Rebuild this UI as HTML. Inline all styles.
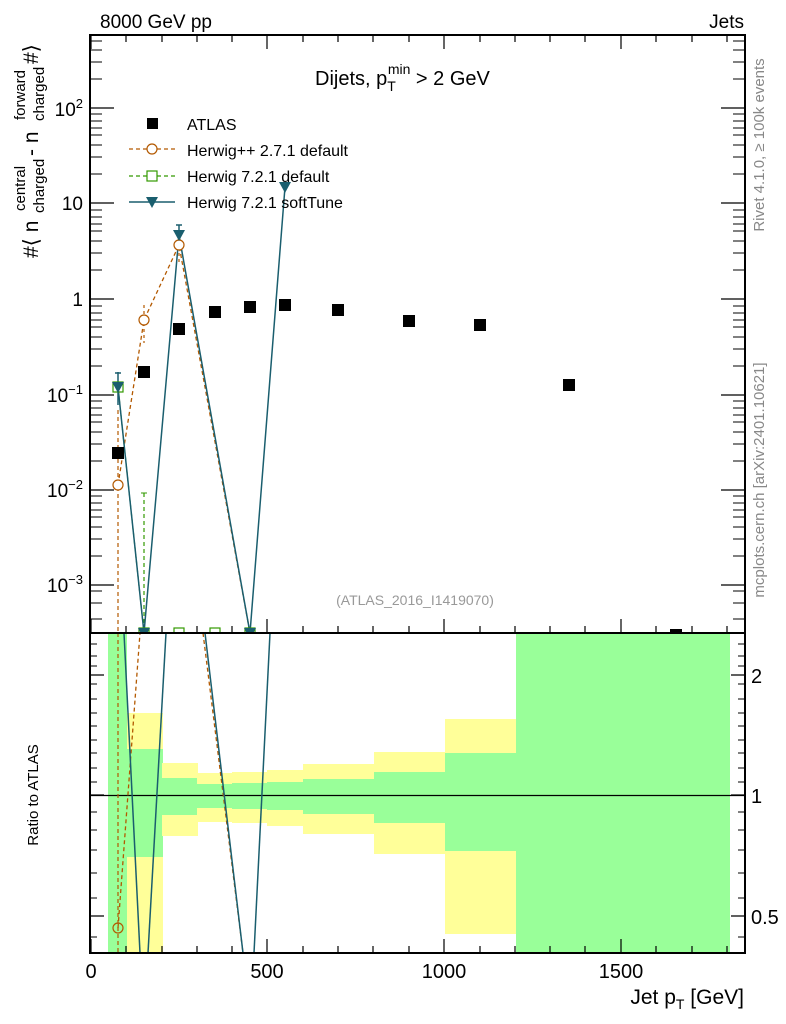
<!DOCTYPE html>
<html><head><meta charset="utf-8"><style>
html,body{margin:0;padding:0;background:#fff}
svg{display:block;font-family:"Liberation Sans",sans-serif}
</style></head><body>
<svg width="786" height="1024" viewBox="0 0 786 1024" xmlns="http://www.w3.org/2000/svg">
<defs>
<clipPath id="cm"><rect x="90" y="35" width="655" height="598"/></clipPath>
<clipPath id="cr"><rect x="90" y="633" width="655" height="320"/></clipPath>
</defs>
<g clip-path="url(#cr)">
<rect x="108" y="633" width="19" height="320" fill="#99ff99"/>
<rect x="127" y="713" width="36" height="240" fill="#ffff99"/>
<rect x="127" y="749" width="36" height="108" fill="#99ff99"/>
<rect x="162" y="763" width="36" height="73" fill="#ffff99"/>
<rect x="162" y="778" width="36" height="37" fill="#99ff99"/>
<rect x="197" y="773" width="36" height="49" fill="#ffff99"/>
<rect x="197" y="784" width="36" height="24" fill="#99ff99"/>
<rect x="232" y="772" width="36" height="51" fill="#ffff99"/>
<rect x="232" y="783" width="36" height="26" fill="#99ff99"/>
<rect x="267" y="770" width="36" height="56" fill="#ffff99"/>
<rect x="267" y="782" width="36" height="28" fill="#99ff99"/>
<rect x="303" y="764" width="72" height="70" fill="#ffff99"/>
<rect x="303" y="779" width="72" height="35" fill="#99ff99"/>
<rect x="374" y="752" width="72" height="102" fill="#ffff99"/>
<rect x="374" y="772" width="72" height="51" fill="#99ff99"/>
<rect x="445" y="719" width="72" height="215" fill="#ffff99"/>
<rect x="445" y="753" width="72" height="98" fill="#99ff99"/>
<rect x="516" y="633" width="214" height="320" fill="#99ff99"/>
<line x1="90" y1="795.5" x2="745" y2="795.5" stroke="#000" stroke-width="1.2"/>
<line x1="118" y1="633" x2="118" y2="953" stroke="#b35900" stroke-width="1.2" stroke-dasharray="4,3"/>
<polyline points="118,928 140,633" fill="none" stroke="#b35900" stroke-width="1.3" stroke-dasharray="4,3"/>
<polyline points="203,633 243,953" fill="none" stroke="#b35900" stroke-width="1.3" stroke-dasharray="4,3"/>
<circle cx="118" cy="928" r="5" fill="none" stroke="#b35900" stroke-width="1.2"/>
<polyline points="124,633 140,953" fill="none" stroke="#1a5e6e" stroke-width="1.5"/>
<polyline points="148,953 166,633" fill="none" stroke="#1a5e6e" stroke-width="1.5"/>
<polyline points="205,633 243,953" fill="none" stroke="#1a5e6e" stroke-width="1.5"/>
<polyline points="254,953 270,633" fill="none" stroke="#1a5e6e" stroke-width="1.5"/>
</g>
<g clip-path="url(#cm)">
<polyline points="118,485 144,320 179,245 250,633" fill="none" stroke="#b35900" stroke-width="1.3" stroke-dasharray="4,3"/>
<line x1="118" y1="410" x2="118" y2="633" stroke="#b35900" stroke-width="1.2" stroke-dasharray="4,3"/>
<line x1="144" y1="305" x2="144" y2="343" stroke="#b35900" stroke-width="1.2" stroke-dasharray="3,3"/>
<line x1="179" y1="235" x2="179" y2="262" stroke="#b35900" stroke-width="1.2" stroke-dasharray="3,3"/>
<polyline points="118,387 144,633" fill="none" stroke="#339900" stroke-width="1.2" stroke-dasharray="4,3"/>
<line x1="144" y1="493" x2="144" y2="633" stroke="#339900" stroke-width="1.2" stroke-dasharray="4,3"/>
<line x1="141" y1="493" x2="147" y2="493" stroke="#339900"/>
<polyline points="118,387 144,633 179,235 250,633 285,187" fill="none" stroke="#1a5e6e" stroke-width="1.5"/>
<line x1="118" y1="372" x2="118" y2="405" stroke="#1a5e6e" stroke-width="1.5"/>
<line x1="115" y1="373" x2="121" y2="373" stroke="#1a5e6e" stroke-width="1.5"/>
<line x1="179" y1="225" x2="179" y2="250" stroke="#1a5e6e" stroke-width="1.5"/>
<line x1="176" y1="225" x2="182" y2="225" stroke="#1a5e6e" stroke-width="1.5"/>
<circle cx="118" cy="485" r="5" fill="#fff" stroke="#b35900" stroke-width="1.2"/>
<circle cx="144" cy="320" r="5" fill="#fff" stroke="#b35900" stroke-width="1.2"/>
<circle cx="179" cy="245" r="5" fill="#fff" stroke="#b35900" stroke-width="1.2"/>
<rect x="113" y="382" width="10" height="10" fill="none" stroke="#339900" stroke-width="1.2"/>
<rect x="139" y="628" width="10" height="10" fill="none" stroke="#339900" stroke-width="1.2"/>
<rect x="174" y="628" width="10" height="10" fill="none" stroke="#339900" stroke-width="1.2"/>
<rect x="210" y="628" width="10" height="10" fill="none" stroke="#339900" stroke-width="1.2"/>
<rect x="245" y="628" width="10" height="10" fill="none" stroke="#339900" stroke-width="1.2"/>
<g fill="#1a5e6e">
<polygon points="112,382 124,382 118,393"/>
<polygon points="138,628 150,628 144,639"/>
<polygon points="173,230 185,230 179,241"/>
<polygon points="244,628 256,628 250,639"/>
<polygon points="279,182 291,182 285,193"/>
</g>
<g fill="#000">
<rect x="112" y="447" width="12" height="12"/>
<rect x="138" y="366" width="12" height="12"/>
<rect x="173" y="323" width="12" height="12"/>
<rect x="209" y="306" width="12" height="12"/>
<rect x="244" y="301" width="12" height="12"/>
<rect x="279" y="299" width="12" height="12"/>
<rect x="332" y="304" width="12" height="12"/>
<rect x="403" y="315" width="12" height="12"/>
<rect x="474" y="319" width="12" height="12"/>
<rect x="563" y="379" width="12" height="12"/>
<rect x="670" y="629" width="12" height="12"/>
</g>
</g>
<rect x="90" y="35" width="655" height="598" fill="none" stroke="#000" stroke-width="2"/>
<rect x="90" y="633" width="655" height="320" fill="none" stroke="#000" stroke-width="2"/>
<g stroke="#000" stroke-width="1.2">
<path d="M91,633v-14M267,633v-14M444,633v-14M621,633v-14M91,953v-14M267,953v-14M444,953v-14M621,953v-14M91,35v14M267,35v14M444,35v14M621,35v14"/>
<path d="M126,633v-7M162,633v-7M197,633v-7M232,633v-7M303,633v-7M338,633v-7M373,633v-7M409,633v-7M480,633v-7M515,633v-7M550,633v-7M585,633v-7M656,633v-7M692,633v-7M727,633v-7
M126,953v-7M162,953v-7M197,953v-7M232,953v-7M303,953v-7M338,953v-7M373,953v-7M409,953v-7M480,953v-7M515,953v-7M550,953v-7M585,953v-7M656,953v-7M692,953v-7M727,953v-7
M126,35v7M162,35v7M197,35v7M232,35v7M303,35v7M338,35v7M373,35v7M409,35v7M480,35v7M515,35v7M550,35v7M585,35v7M656,35v7M692,35v7M727,35v7"/>
<path d="M90,108h24M90,203h24M90,299h24M90,395h24M90,490h24M90,585h24M745,108h-24M745,203h-24M745,299h-24M745,395h-24M745,490h-24M745,585h-24"/>
<path d="M90,795h14M90,675h14M90,916h14M745,795h-14M745,675h-14M745,916h-14"/>
</g>
<g stroke="#000" stroke-width="1">
<path d="M90,79h12M90,62h12M90,50h12M90,41h12M745,79h-12M745,62h-12M745,50h-12M745,41h-12"/>
<path d="M90,174h12M90,157h12M90,145h12M90,135h12M90,128h12M90,121h12M90,114h12M745,174h-12M745,157h-12M745,145h-12M745,135h-12M745,128h-12M745,121h-12M745,114h-12"/>
<path d="M90,270h12M90,253h12M90,241h12M90,231h12M90,224h12M90,217h12M90,210h12M745,270h-12M745,253h-12M745,241h-12M745,231h-12M745,224h-12M745,217h-12M745,210h-12"/>
<path d="M90,366h12M90,349h12M90,337h12M90,327h12M90,320h12M90,313h12M90,306h12M745,366h-12M745,349h-12M745,337h-12M745,327h-12M745,320h-12M745,313h-12M745,306h-12"/>
<path d="M90,461h12M90,444h12M90,432h12M90,422h12M90,415h12M90,408h12M90,401h12M745,461h-12M745,444h-12M745,432h-12M745,422h-12M745,415h-12M745,408h-12M745,401h-12"/>
<path d="M90,556h12M90,539h12M90,527h12M90,517h12M90,510h12M90,503h12M90,496h12M745,556h-12M745,539h-12M745,527h-12M745,517h-12M745,510h-12M745,503h-12M745,496h-12"/>
<path d="M90,619h12M90,603h12M90,591h12M745,619h-12M745,603h-12M745,591h-12"/>
<path d="M90,644h7M90,656h7M90,666h7M90,684h7M90,699h7M90,713h7M90,726h7M90,740h7M90,753h7M90,768h7M90,782h7M90,812h7M90,830h7M90,850h7M90,873h7M90,898h7M90,937h7
M745,644h-7M745,656h-7M745,666h-7M745,684h-7M745,699h-7M745,713h-7M745,726h-7M745,740h-7M745,753h-7M745,768h-7M745,782h-7M745,812h-7M745,830h-7M745,850h-7M745,873h-7M745,898h-7M745,937h-7"/>
</g>
<g font-size="19" fill="#000">
<text x="100" y="28">8000 GeV pp</text>
<text x="744" y="28" text-anchor="end">Jets</text>
<text x="83" y="116" text-anchor="end">10<tspan font-size="13" dy="-8">2</tspan></text>
<text x="83" y="210" text-anchor="end">10</text>
<text x="83" y="306" text-anchor="end">1</text>
<text x="83" y="402" text-anchor="end">10<tspan font-size="13" dy="-8">−1</tspan></text>
<text x="83" y="497" text-anchor="end">10<tspan font-size="13" dy="-8">−2</tspan></text>
<text x="83" y="592" text-anchor="end">10<tspan font-size="13" dy="-8">−3</tspan></text>
</g>
<g font-size="20" fill="#000">
<text x="751" y="683">2</text>
<text x="751" y="803">1</text>
<text x="751" y="924">0.5</text>
<text x="91" y="978" text-anchor="middle">0</text>
<text x="267" y="978" text-anchor="middle">500</text>
<text x="444" y="978" text-anchor="middle">1000</text>
<text x="621" y="978" text-anchor="middle">1500</text>
<text x="744" y="1004" text-anchor="end" font-size="21">Jet p<tspan font-size="14" dy="5">T</tspan><tspan dy="-5"> [GeV]</tspan></text>
<text x="315" y="85">Dijets, p<tspan font-size="14" dy="6">T</tspan><tspan font-size="14" dx="-8" dy="-17">min</tspan><tspan dy="11"> &gt; 2 GeV</tspan></text>
</g>
<g font-size="16" fill="#000">
<text x="187" y="130">ATLAS</text>
<text x="187" y="156">Herwig++ 2.7.1 default</text>
<text x="187" y="182">Herwig 7.2.1 default</text>
<text x="187" y="208">Herwig 7.2.1 softTune</text>
</g>
<rect x="147" y="118" width="11" height="11" fill="#000"/>
<line x1="129" y1="149" x2="175" y2="149" stroke="#b35900" stroke-width="1.3" stroke-dasharray="4,3"/>
<circle cx="152" cy="149" r="5" fill="#fff" stroke="#b35900" stroke-width="1.2"/>
<line x1="129" y1="176" x2="175" y2="176" stroke="#339900" stroke-width="1.3" stroke-dasharray="4,3"/>
<rect x="147" y="171" width="10" height="10" fill="#fff" stroke="#339900" stroke-width="1.2"/>
<line x1="129" y1="202" x2="175" y2="202" stroke="#1a5e6e" stroke-width="1.5"/>
<polygon points="146,197 158,197 152,208" fill="#1a5e6e"/>
<text x="415" y="605" font-size="14" fill="#999" text-anchor="middle">(ATLAS_2016_I1419070)</text>
<text transform="translate(764,145) rotate(-90)" font-size="15" fill="#888" text-anchor="middle">Rivet 4.1.0, ≥ 100k events</text>
<text transform="translate(764,480) rotate(-90)" font-size="15" fill="#888" text-anchor="middle">mcplots.cern.ch [arXiv:2401.10621]</text>
<text transform="translate(38,795) rotate(-90)" font-size="15" fill="#000" text-anchor="middle">Ratio to ATLAS</text>
<g transform="translate(38,258) rotate(-90)" fill="#000">
<text x="0" y="0" font-size="21">#⟨ n</text>
<text x="45" y="6" font-size="15">charged</text>
<text x="47" y="-13" font-size="15">central</text>
<text x="102" y="0" font-size="21"> - n</text>
<text x="137" y="6" font-size="15">charged</text>
<text x="138" y="-13" font-size="15">forward</text>
<text x="194" y="0" font-size="21">#⟩</text>
</g>
</svg>
</body></html>
